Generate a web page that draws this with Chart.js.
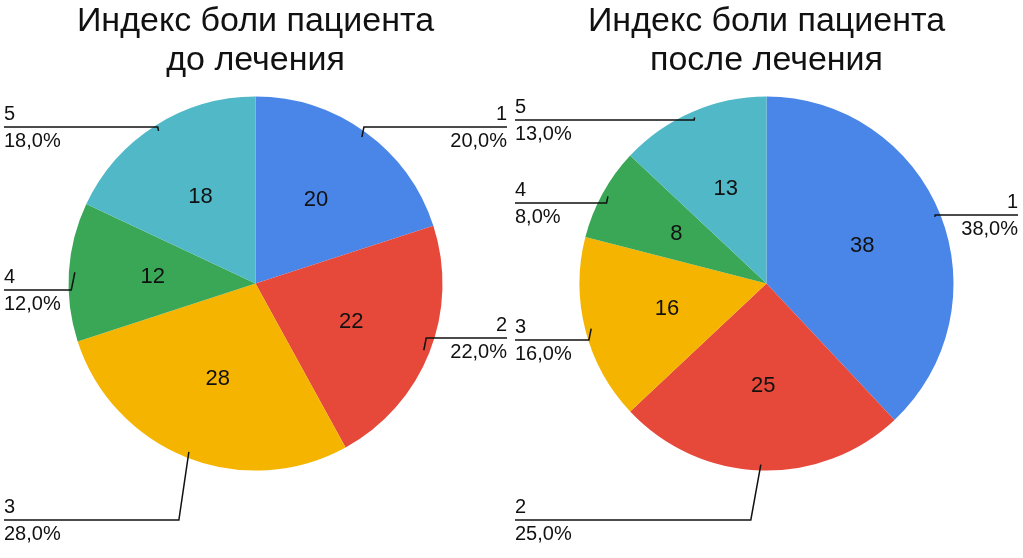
<!DOCTYPE html>
<html>
<head>
<meta charset="utf-8">
<script src="https://cdn.jsdelivr.net/npm/chart.js@4"></script>
<style>
body{margin:0;background:#fff;}
#wrap{width:1023px;height:558px;display:flex;}
.box{width:511px;height:558px;position:relative;}
</style>
</head>
<body>
<div id="wrap">
<div class="box"><canvas id="c1"></canvas></div>
<div class="box"><canvas id="c2"></canvas></div>
</div>
<script>
var categories = ['1', '2', '3', '4', '5'];
var beforeValues = [20, 22, 28, 12, 18];
var afterValues = [38, 25, 16, 8, 13];
var colors = ['#4a86e8', '#e6483a', '#f4b400', '#3aa757', '#50b8c6'];
// y of each callout line (layout only)
var beforeLineY = [127, 338, 520, 290, 127];
var afterLineY = [215, 520, 340, 203, 120];

var FONT = '"Liberation Sans", Arial, sans-serif';

var calloutPlugin = {
	id: 'callouts',
	afterDatasetsDraw: function(chart, args, opts) {
		var ctx = chart.ctx;
		var meta = chart.getDatasetMeta(0);
		var data = chart.data.datasets[0].data;
		var total = data.reduce(function(a, b) { return a + b; }, 0);
		var W = chart.width;
		ctx.save();
		meta.data.forEach(function(arc, i) {
			var p = arc.getProps(['x', 'y', 'startAngle', 'endAngle', 'outerRadius']);
			var mid = (p.startAngle + p.endAngle) / 2;
			// inside value
			var ix = p.x + Math.cos(mid) * p.outerRadius * 0.55;
			var iy = p.y + Math.sin(mid) * p.outerRadius * 0.55;
			ctx.fillStyle = '#111';
			ctx.font = '22px ' + FONT;
			ctx.textAlign = 'center';
			ctx.textBaseline = 'middle';
			ctx.fillText(data[i], ix, iy);
			// callout
			var ax = p.x + Math.cos(mid) * (p.outerRadius - 6);
			var ay = p.y + Math.sin(mid) * (p.outerRadius - 6);
			var right = Math.cos(mid) >= 0;
			var ly = opts.lineY[i];
			var bx = ax + (right ? 1 : -1) * Math.min(10, Math.abs(ly - ay) * 0.2);
			var ex = right ? W - 4 : 4;
			ctx.strokeStyle = '#111';
			ctx.lineWidth = 1.5;
			ctx.beginPath();
			ctx.moveTo(ax, ay);
			ctx.lineTo(bx, ly);
			ctx.lineTo(ex, ly);
			ctx.stroke();
			ctx.font = '20px ' + FONT;
			ctx.textAlign = right ? 'right' : 'left';
			ctx.textBaseline = 'bottom';
			ctx.fillText(chart.data.labels[i], ex, ly - 3);
			ctx.textBaseline = 'top';
			ctx.fillText((data[i] / total * 100).toFixed(1).replace('.', ',') + '%', ex, ly + 4);
		});
		ctx.restore();
	}
};

function makePie(id, title, values, lineY) {
	new Chart(document.getElementById(id), {
		type: 'pie',
		data: {
			labels: categories,
			datasets: [{ data: values, backgroundColor: colors, borderWidth: 0, radius: 187 }]
		},
		options: {
			responsive: false,
			animation: false,
			layout: { padding: { top: 0, bottom: 85, left: 0, right: 0 } },
			plugins: {
				legend: { display: false },
				tooltip: { enabled: false },
				title: {
					display: true,
					text: title,
					color: '#111',
					font: { family: FONT, size: 34, weight: 'normal', lineHeight: 1.15 },
					padding: { top: 2, bottom: 14 }
				},
				callouts: { lineY: lineY }
			}
		},
		plugins: [calloutPlugin]
	});
}

document.getElementById('c1').width = 511; document.getElementById('c1').height = 558;
document.getElementById('c2').width = 511; document.getElementById('c2').height = 558;
makePie('c1', ['Индекс боли пациента', 'до лечения'], beforeValues, beforeLineY);
makePie('c2', ['Индекс боли пациента', 'после лечения'], afterValues, afterLineY);
</script>
</body>
</html>
